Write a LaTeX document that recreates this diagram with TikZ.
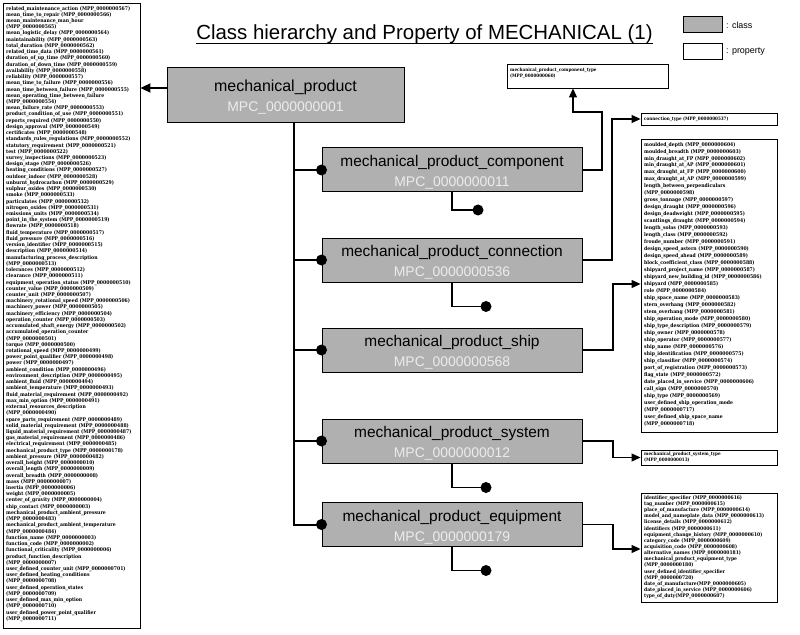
\documentclass[tikz,border=0pt]{standalone}
\usepackage{fontspec}
\setmainfont{Liberation Sans}
\newfontfamily\pf[FakeStretch=0.9]{DejaVu Serif}
\usetikzlibrary{arrows.meta}
\definecolor{classgray}{RGB}{176,176,176}
\definecolor{idgray}{RGB}{236,236,236}
\newcommand\fs[2]{\fontsize{#1}{#2}\selectfont}
\begin{document}
\begin{tikzpicture}[x=1bp,y=-1bp,
  classbox/.style={draw=black,line width=1bp,fill=classgray,inner sep=0,minimum width=260bp,minimum height=44bp},
  cname/.style={anchor=base,inner sep=0,font=\fs{15.5}{18}},
  cid/.style={anchor=base,inner sep=0,text=idgray,font=\fs{14}{16}},
  propbox/.style={draw=black,line width=0.9bp,fill=white,inner sep=0},
  proptext/.style={anchor=north west,inner sep=0,align=left,text width=200bp},
  trunk/.style={line width=2bp},
  sub/.style={line width=1.6bp},
  conn/.style={line width=1.1bp,-{Triangle[length=9bp,width=8bp]}},
  dot/.style={circle,fill=black,inner sep=0,minimum size=11bp},
]
\useasboundingbox[fill=white] (0,0) rectangle (800,635);

% title and legend
\node[inner sep=0,anchor=base,font=\fs{20.5}{24}] (title) at (424.5,40) {Class hierarchy and Property of MECHANICAL (1)};
\draw[line width=1.3bp] ([yshift=-3.5bp]title.base west) -- ([yshift=-3.5bp]title.base east);
\node[classbox,minimum width=39bp,minimum height=16bp] (legc) at (702.5,25) {};
\node[anchor=west,inner sep=0,font=\fs{9}{10}] (legct) at (726,25) {: class};
\node[propbox,minimum width=39bp,minimum height=16bp] (legp) at (702.5,51) {};
\node[anchor=west,inner sep=0,font=\fs{9}{10}] (legpt) at (726,52) {: property};

% left property list
\node[propbox,minimum width=137bp,minimum height=625bp] (leftbox) at (71.5,315.5) {};
\node[proptext,font=\pf\bfseries\fs{5.1}{6.25}] (lefttext) at (6,6) {%
related\_maintenance\_action (MPP\_0000000567)\\
mean\_time\_to\_repair (MPP\_0000000566)\\
mean\_maintenance\_man\_hour\\
(MPP\_0000000565)\\
mean\_logistic\_delay (MPP\_0000000564)\\
maintainability (MPP\_0000000563)\\
total\_duration (MPP\_0000000562)\\
related\_time\_data (MPP\_0000000561)\\
duration\_of\_up\_time (MPP\_0000000560)\\
duration\_of\_down\_time (MPP\_0000000559)\\
availability (MPP\_0000000558)\\
reliability (MPP\_0000000557)\\
mean\_time\_to\_failure (MPP\_0000000556)\\
mean\_time\_between\_failure (MPP\_0000000555)\\
mean\_operating\_time\_between\_failure\\
(MPP\_0000000554)\\
mean\_failure\_rate (MPP\_0000000553)\\
product\_condition\_of\_use (MPP\_0000000551)\\
reports\_required (MPP\_0000000550)\\
design\_approval (MPP\_0000000549)\\
certificates (MPP\_0000000548)\\
standards\_rules\_regulations (MPP\_0000000552)\\
statutory\_requirement (MPP\_0000000521)\\
test (MPP\_0000000522)\\
survey\_inspections (MPP\_0000000523)\\
design\_stage (MPP\_0000000526)\\
heating\_conditions (MPP\_0000000527)\\
outdoor\_indoor (MPP\_0000000528)\\
unburnt\_hydrocarbon (MPP\_0000000529)\\
sulphur\_oxides (MPP\_0000000530)\\
smoke (MPP\_0000000533)\\
particulates (MPP\_0000000532)\\
nitrogen\_oxides (MPP\_0000000531)\\
emissions\_units (MPP\_0000000534)\\
point\_in\_the\_system (MPP\_0000000519)\\
flowrate (MPP\_0000000518)\\
fluid\_temperature (MPP\_0000000517)\\
fluid\_pressure (MPP\_0000000516)\\
version\_identifier (MPP\_0000000515)\\
description (MPP\_0000000514)\\
manufacturing\_process\_description\\
(MPP\_0000000513)\\
tolerances (MPP\_0000000512)\\
clearance (MPP\_0000000511)\\
equipment\_operation\_status (MPP\_0000000510)\\
counter\_value (MPP\_0000000509)\\
counter\_unit (MPP\_0000000507)\\
machinery\_rotational\_speed (MPP\_0000000506)\\
machinery\_power (MPP\_0000000505)\\
machinery\_efficiency (MPP\_0000000504)\\
operation\_counter (MPP\_0000000503)\\
accumulated\_shaft\_energy (MPP\_0000000502)\\
accumulated\_operation\_counter\\
(MPP\_0000000501)\\
torque (MPP\_0000000500)\\
rotational\_speed (MPP\_0000000499)\\
power\_point\_qualifier (MPP\_0000000498)\\
power (MPP\_0000000497)\\
ambient\_condition (MPP\_0000000496)\\
environment\_description (MPP\_0000000495)\\
ambient\_fluid (MPP\_0000000494)\\
ambient\_temperature (MPP\_0000000493)\\
fluid\_material\_requirement (MPP\_0000000492)\\
max\_min\_option (MPP\_0000000491)\\
external\_resources\_description\\
(MPP\_0000000490)\\
spare\_parts\_requirement (MPP\_0000000489)\\
solid\_material\_requirement (MPP\_0000000488)\\
liquid\_material\_requirement (MPP\_0000000487)\\
gas\_material\_requirement (MPP\_0000000486)\\
electrical\_requirement (MPP\_0000000485)\\
mechanical\_product\_type (MPP\_0000000178)\\
ambient\_pressure (MPP\_0000000482)\\
overall\_height (MPP\_0000000010)\\
overall\_length (MPP\_0000000009)\\
overall\_breadth (MPP\_0000000008)\\
mass (MPP\_0000000007)\\
inertia (MPP\_0000000006)\\
weight (MPP\_0000000005)\\
center\_of\_gravity (MPP\_0000000004)\\
ship\_contact (MPP\_0000000003)\\
mechanical\_product\_ambient\_pressure\\
(MPP\_0000000483)\\
mechanical\_product\_ambient\_temperature\\
(MPP\_0000000484)\\
function\_name (MPP\_0000000003)\\
function\_code (MPP\_0000000002)\\
functional\_criticality (MPP\_0000000006)\\
product\_function\_description\\
(MPP\_0000000007)\\
user\_defined\_counter\_unit (MPP\_0000000701)\\
user\_defined\_heating\_conditions\\
(MPP\_0000000708)\\
user\_defined\_operation\_states\\
(MPP\_0000000709)\\
user\_defined\_max\_min\_option\\
(MPP\_0000000710)\\
user\_defined\_power\_point\_qualifier\\
(MPP\_0000000711)};

% classes
\node[classbox,minimum width=237bp,minimum height=55bp] (mp) at (285.5,95.5) {};
\node[cname,font=\fs{16}{18}] (mpn) at (285.5,91.5) {mechanical\_product};
\node[cid] (mpi) at (285.5,111.5) {MPC\_0000000001};

\node[classbox] (comp) at (452,170) {};
\node[cname] (compn) at (452,166.7) {mechanical\_product\_component};
\node[cid] (compi) at (452,186.5) {MPC\_0000000011};

\node[classbox] (conn) at (452,260) {};
\node[cname] (connn) at (452,256.7) {mechanical\_product\_connection};
\node[cid] (conni) at (452,276.5) {MPC\_0000000536};

\node[classbox] (ship) at (452,350) {};
\node[cname] (shipn) at (452,346.7) {mechanical\_product\_ship};
\node[cid] (shipi) at (452,366.5) {MPC\_0000000568};

\node[classbox] (sys) at (452,441) {};
\node[cname] (sysn) at (452,437.7) {mechanical\_product\_system};
\node[cid] (sysi) at (452,457.5) {MPC\_0000000012};

\node[classbox] (equip) at (452,524.5) {};
\node[cname] (equipn) at (452,521.2) {mechanical\_product\_equipment};
\node[cid] (equipi) at (452,541) {MPC\_0000000179};

% hierarchy trunk
\draw[line width=2bp,-{Triangle[length=10bp,width=9bp]}] (mp.west |- 0,88) -- (leftbox.east |- 0,88);
\node[dot] (compd) at (comp.west) {};
\node[dot] (connd) at (conn.west) {};
\node[dot] (shipd) at (ship.west) {};
\node[dot] (sysd) at (sys.west) {};
\node[dot] (equipd) at (equip.west) {};
\draw[trunk] (mp.south -| 294,0) |- (equipd.center);
\draw[trunk] (294,0 |- compd.center) -- (compd.center);
\draw[trunk] (294,0 |- connd.center) -- (connd.center);
\draw[trunk] (294,0 |- shipd.center) -- (shipd.center);
\draw[trunk] (294,0 |- sysd.center) -- (sysd.center);

% sub-class stubs
\node[dot] (compsd) at (478,210) {};
\node[dot] (connsd) at (486,306.5) {};
\node[dot] (syssd) at (486,487.5) {};
\node[dot] (equipsd) at (486,570.5) {};
\draw[sub] (comp.south) |- (compsd.center);
\draw[sub] (conn.south) |- (connsd.center);
\draw[sub] (sys.south) |- (syssd.center);
\draw[sub] (equip.south) |- (equipsd.center);

% property boxes
\node[propbox,minimum width=161bp,minimum height=24bp] (ctype) at (587.5,76) {};
\node[proptext,font=\pf\bfseries\fs{4.6}{6}] (ctypet) at (510,67.5) {mechanical\_product\_component\_type\\(MPP\_0000000060)};

\node[propbox,minimum width=136bp,minimum height=12bp] (contype) at (709,119) {};
\node[anchor=west,inner sep=0,font=\pf\bfseries\fs{4.6}{6}] (contypet) at (644,119) {connection\_type (MPP\_0000000537)};

\node[propbox,minimum width=136bp,minimum height=293bp] (shipbox) at (709,285.5) {};
\node[proptext,font=\pf\bfseries\fs{5.1}{7.0}] (shipt) at (644,142) {%
moulded\_depth (MPP\_0000000604)\\
moulded\_breadth (MPP\_0000000603)\\
min\_draught\_at\_FP (MPP\_0000000602)\\
min\_draught\_at\_AP (MPP\_0000000601)\\
max\_draught\_at\_FP (MPP\_0000000600)\\
max\_draught\_at\_AP (MPP\_0000000599)\\
length\_between\_perpendiculars\\
(MPP\_0000000598)\\
gross\_tonnage (MPP\_0000000597)\\
design\_draught (MPP\_0000000596)\\
design\_deadweight (MPP\_0000000595)\\
scantlings\_draught (MPP\_0000000594)\\
length\_solas (MPP\_0000000593)\\
length\_class (MPP\_0000000592)\\
froude\_number (MPP\_0000000591)\\
design\_speed\_astern (MPP\_0000000590)\\
design\_speed\_ahead (MPP\_0000000589)\\
block\_coefficient\_class (MPP\_0000000588)\\
shipyard\_project\_name (MPP\_0000000587)\\
shipyard\_new\_building\_id (MPP\_0000000586)\\
shipyard (MPP\_0000000585)\\
role (MPP\_0000000584)\\
ship\_space\_name (MPP\_0000000583)\\
stern\_overhang (MPP\_0000000582)\\
stem\_overhang (MPP\_0000000581)\\
ship\_operation\_mode (MPP\_0000000580)\\
ship\_type\_description (MPP\_0000000579)\\
ship\_owner (MPP\_0000000578)\\
ship\_operator (MPP\_0000000577)\\
ship\_name (MPP\_0000000576)\\
ship\_identification (MPP\_0000000575)\\
ship\_classifier (MPP\_0000000574)\\
port\_of\_registration (MPP\_0000000573)\\
flag\_state (MPP\_0000000572)\\
date\_placed\_in\_service (MPP\_0000000606)\\
call\_sign (MPP\_0000000570)\\
ship\_type (MPP\_0000000569)\\
user\_defined\_ship\_operation\_mode\\
(MPP\_0000000717)\\
user\_defined\_ship\_space\_name\\
(MPP\_0000000718)};

\node[propbox,minimum width=136bp,minimum height=15bp] (systype) at (709,457.5) {};
\node[proptext,font=\pf\bfseries\fs{4.6}{6}] (systypet) at (644,451.5) {mechanical\_product\_system\_type\\(MPP\_0000000013)};

\node[propbox,minimum width=136bp,minimum height=109bp] (equipbox) at (709,547.5) {};
\node[proptext,font=\pf\bfseries\fs{5.0}{6.15}] (equipt) at (644,495.5) {%
identifier\_specifier (MPP\_0000000616)\\
tag\_number (MPP\_0000000615)\\
place\_of\_manufacture (MPP\_0000000614)\\
model\_and\_nameplate\_data (MPP\_0000000613)\\
license\_details (MPP\_0000000612)\\
identifiers (MPP\_0000000611)\\
equipment\_change\_history (MPP\_0000000610)\\
category\_code (MPP\_0000000609)\\
acquisition\_code (MPP\_0000000608)\\
alternative\_names (MPP\_0000000181)\\
mechanical\_product\_equipment\_type\\
(MPP\_0000000180)\\
user\_defined\_identifier\_specifier\\
(MPP\_0000000720)\\
date\_of\_manufacture(MPP\_0000000605)\\
date\_placed\_in\_service (MPP\_0000000606)\\
type\_of\_duty(MPP\_0000000607)};

% property connectors
\draw[conn] (comp.east) -| (602,112) -| (ctype.south -| 573,0);
\draw[conn] (conn.east) -| (612,119) -- (contype.west);
\draw[conn] (ship.east) -| (613,284) -- (shipbox.west |- 0,284);
\draw[conn] (sys.east) -| (613,457.5) -- (systype.west);
\draw[conn] (equip.east) -| (613,549) -- (equipbox.west |- 0,549);
\end{tikzpicture}
\end{document}
